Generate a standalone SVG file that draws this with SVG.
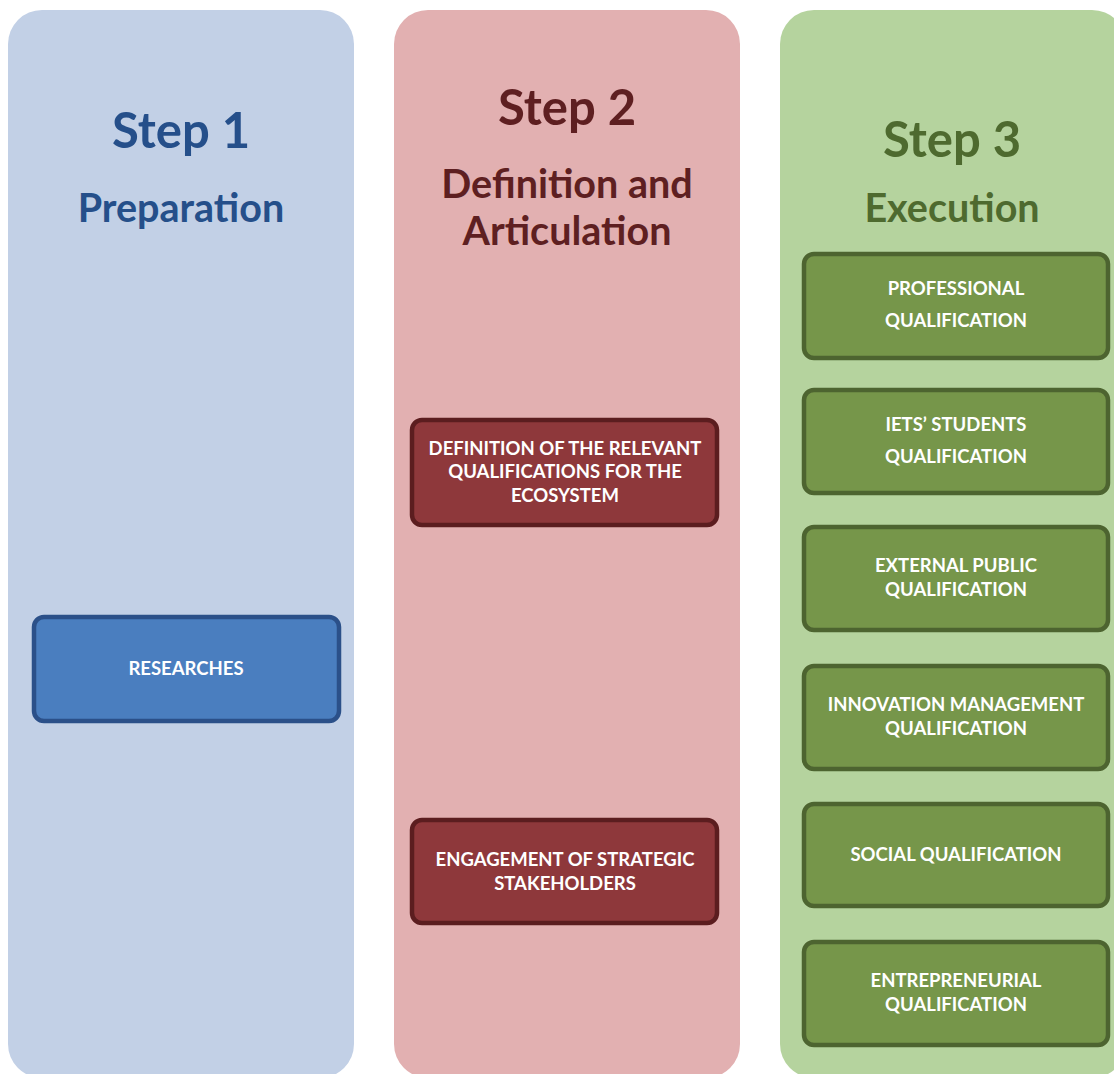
<svg xmlns="http://www.w3.org/2000/svg" width="1114" height="1074" viewBox="0 0 1114 1074">
<style>
  .title { font-family: Lato, "Open Sans", "Liberation Sans", sans-serif; font-weight: 700; text-anchor: middle; }
  .step { font-size: 49px; }
  .sub { font-size: 39.5px; }
  .t1 { fill: #254f8a; }
  .t2 { fill: #5e1f21; }
  .t3 { fill: #4e6a2f; }
  .lbl { font-family: Lato, "Open Sans", "Liberation Sans", sans-serif; font-weight: 700; font-size: 18.5px; fill: #ffffff; text-anchor: middle; }
  .box { stroke-width: 4.5; }
  .blue { fill: #4a7ebf; stroke: #2b5089; }
  .red { fill: #8e383b; stroke: #5b1d1f; }
  .green { fill: #76964a; stroke: #4d6430; }
</style>
<rect width="1114" height="1074" fill="#ffffff"/>
<g id="column-1">
  <rect x="8" y="10" width="346" height="1068" rx="34" fill="#c2d0e6"/>
  <text class="title step t1" x="181" y="148">Step 1</text>
  <text class="title sub t1" x="181" y="222">Preparation</text>
</g>
<g id="column-2">
  <rect x="394" y="10" width="346" height="1068" rx="34" fill="#e2b0b1"/>
  <text class="title step t2" x="567" y="125">Step 2</text>
  <text class="title sub t2" x="567" y="198">Definition and</text>
  <text class="title sub t2" x="567" y="245">Articulation</text>
</g>
<g id="column-3">
  <rect x="780" y="10" width="346" height="1068" rx="34" fill="#b5d39e"/>
  <text class="title step t3" x="952" y="157">Step 3</text>
  <text class="title sub t3" x="952" y="222">Execution</text>
</g>
<g id="researches">
  <rect class="box blue" x="34" y="617" width="305" height="104" rx="10"/>
  <text class="lbl" x="186" y="675">RESEARCHES</text>
</g>
<g id="definition">
  <rect class="box red" x="412" y="420" width="305" height="105" rx="10"/>
  <text class="lbl" x="565" y="455">DEFINITION OF THE RELEVANT</text>
  <text class="lbl" x="565" y="478">QUALIFICATIONS FOR THE</text>
  <text class="lbl" x="565" y="502">ECOSYSTEM</text>
</g>
<g id="engagement">
  <rect class="box red" x="412" y="820" width="305" height="103" rx="10"/>
  <text class="lbl" x="565" y="866">ENGAGEMENT OF STRATEGIC</text>
  <text class="lbl" x="565" y="890">STAKEHOLDERS</text>
</g>
<g id="professional">
  <rect class="box green" x="804" y="254" width="304" height="104" rx="10"/>
  <text class="lbl" x="956" y="295">PROFESSIONAL</text>
  <text class="lbl" x="956" y="327">QUALIFICATION</text>
</g>
<g id="students">
  <rect class="box green" x="804" y="390" width="304" height="103" rx="10"/>
  <text class="lbl" x="956" y="431">IETS’ STUDENTS</text>
  <text class="lbl" x="956" y="463">QUALIFICATION</text>
</g>
<g id="external">
  <rect class="box green" x="804" y="527" width="304" height="103" rx="10"/>
  <text class="lbl" x="956" y="572">EXTERNAL PUBLIC</text>
  <text class="lbl" x="956" y="596">QUALIFICATION</text>
</g>
<g id="innovation">
  <rect class="box green" x="804" y="666" width="304" height="103" rx="10"/>
  <text class="lbl" x="956" y="711">INNOVATION MANAGEMENT</text>
  <text class="lbl" x="956" y="735">QUALIFICATION</text>
</g>
<g id="social">
  <rect class="box green" x="804" y="804" width="304" height="102" rx="10"/>
  <text class="lbl" x="956" y="861">SOCIAL QUALIFICATION</text>
</g>
<g id="entrepreneurial">
  <rect class="box green" x="804" y="942" width="304" height="103" rx="10"/>
  <text class="lbl" x="956" y="987">ENTREPRENEURIAL</text>
  <text class="lbl" x="956" y="1011">QUALIFICATION</text>
</g>
<g id="connectors"></g>
</svg>
